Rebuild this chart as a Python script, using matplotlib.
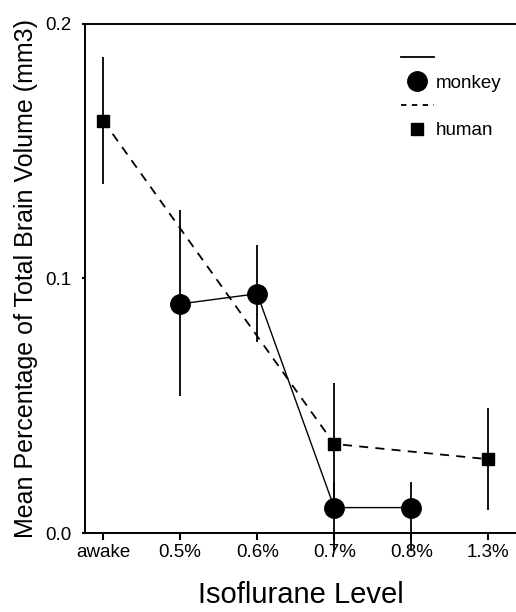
import numpy as np
import matplotlib.pyplot as plt
from matplotlib.lines import Line2D

plt.rcParams['font.family'] = ['Liberation Sans', 'DejaVu Sans']

# Isoflurane levels (x categories)
levels = ["awake", "0.5%", "0.6%", "0.7%", "0.8%", "1.3%"]

# monkey
monkey_lvl = ["0.5%", "0.6%", "0.7%", "0.8%"]
monkey_mean = [0.090, 0.094, 0.010, 0.010]
monkey_lo = [0.036, 0.019, 0.017, 0.017]
monkey_hi = [0.037, 0.019, 0.010, 0.010]

# human
human_lvl = ["awake", "0.7%", "1.3%"]
human_mean = [0.162, 0.035, 0.029]
human_err = [0.025, 0.024, 0.020]

xm = [levels.index(l) for l in monkey_lvl]
xh = [levels.index(l) for l in human_lvl]

fig = plt.figure(figsize=(5.16, 6.12), dpi=100)
ax = fig.add_axes([0.165, 0.129, 0.835, 0.832])

ax.errorbar(xm, monkey_mean, yerr=[monkey_lo, monkey_hi], fmt='none',
            ecolor='k', elinewidth=1.3, clip_on=False, zorder=2)
ax.errorbar(xh, human_mean, yerr=human_err, fmt='none',
            ecolor='k', elinewidth=1.3, clip_on=False, zorder=2)
ax.plot(xm, monkey_mean, '-', color='k', lw=1.0, zorder=3)
ax.plot(xh, human_mean, '--', color='k', lw=1.3, dashes=(5, 4), zorder=3)
ax.plot(xm, monkey_mean, 'o', color='k', ms=14, zorder=4, clip_on=False)
ax.plot(xh, human_mean, 's', color='k', ms=8.5, zorder=4)

ax.set_xlim(-0.234, 5.36)
ax.set_ylim(0, 0.2)
ax.set_xticks(range(len(levels)))
ax.set_xticklabels(levels, fontsize=13.5)
ax.set_yticks([0.0, 0.1, 0.2])
ax.set_yticklabels(["0.0", "0.1", "0.2"], fontsize=13.5)
ax.tick_params(axis='x', length=5, width=1.5, pad=3)
ax.tick_params(axis='y', length=2, width=1.5, pad=8)

for s in ['left', 'top', 'bottom']:
    ax.spines[s].set_linewidth(1.4)
ax.spines['right'].set_visible(False)

ax.set_ylabel("Mean Percentage of Total Brain Volume (mm3)", fontsize=18, labelpad=5)
ax.set_xlabel("Isoflurane Level", fontsize=21, labelpad=14)

handles = [
    Line2D([], [], color='k', lw=1.3),
    Line2D([], [], marker='o', color='k', ls='none', ms=14),
    Line2D([], [], color='k', lw=1.3, ls='--', dashes=(3, 3)),
    Line2D([], [], marker='s', color='k', ls='none', ms=8.5),
]
ax.legend(handles, ["", "monkey", "", "human"], loc='upper left',
          bbox_to_anchor=(0.693, 0.98), frameon=False, fontsize=13.5,
          handlelength=1.8, handletextpad=0.1, labelspacing=0.35)

fig.savefig("out.png", dpi=100)
